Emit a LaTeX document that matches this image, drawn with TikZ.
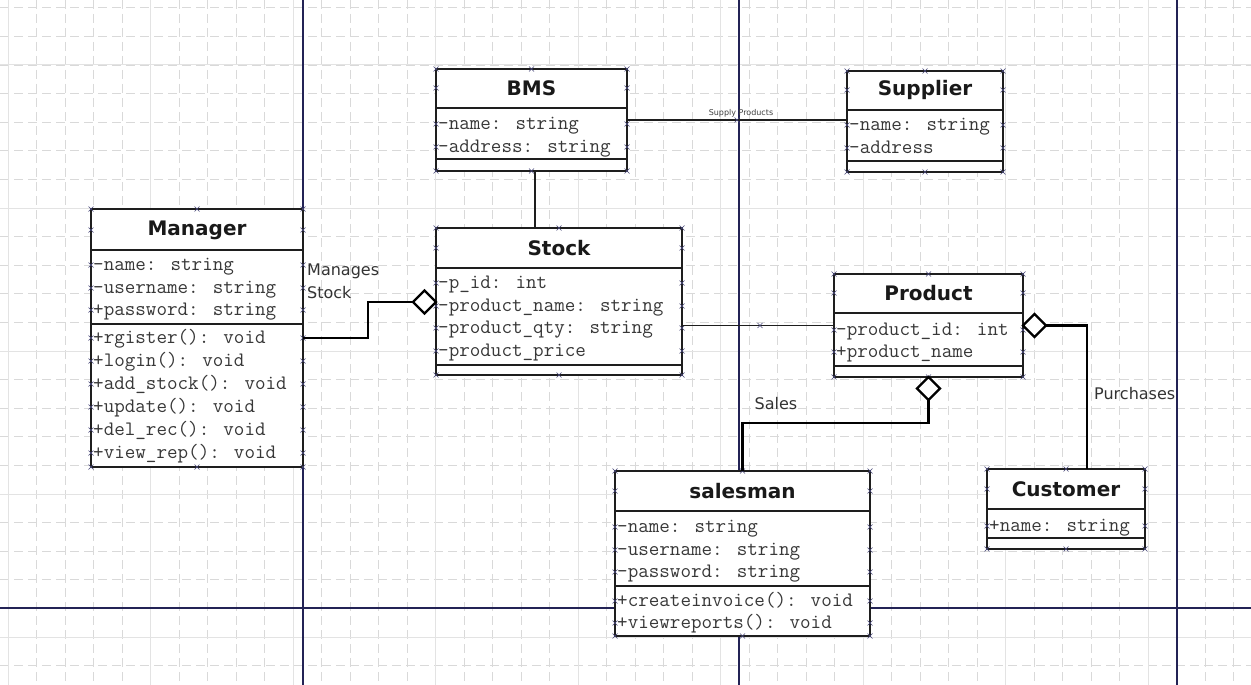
\documentclass[tikz,border=0pt]{standalone}
\usepackage{fontspec}
\setmainfont{DejaVu Sans}
\newfontfamily\umlmono{Latin Modern Mono}
\usetikzlibrary{shapes.geometric,calc}

\definecolor{pagebreak}{RGB}{35,35,85}
\definecolor{ink}{RGB}{30,30,30}
\definecolor{marker}{RGB}{70,70,120}

\tikzset{
  minorgrid/.style={draw=black!15, line width=0.8pt, dash pattern=on 9pt off 5pt},
  majorgrid/.style={draw=black!11, line width=1pt},
  pageline/.style={draw=pagebreak, line width=1.8pt},
  frame/.style={rectangle, draw=ink, fill=white, line width=1.4pt, inner sep=0pt, outer sep=0pt},
  rule/.style={draw=ink, line width=1.4pt},
  title/.style={font=\fontsize{20}{24}\selectfont\bfseries, text=black!90, inner sep=0pt},
  attr/.style={font=\umlmono\fontsize{20.5}{24}\selectfont, text=black!78, anchor=west,
               inner sep=0pt, text height=11pt, text depth=1pt},
  tag/.style={font=\fontsize{16}{23}\selectfont, text=black!80, inner sep=0pt},
  assoc/.style={draw=ink, line width=1.3pt},
  agg/.style={draw=black, line width=2.6pt},
  aggdiamond/.style={diamond, draw=black, fill=white, line width=2.2pt,
                     minimum width=23pt, minimum height=23pt, inner sep=0pt, outer sep=0pt},
  xmark/.pic={\draw[marker, line width=0.55pt] (-2.5,-2.5) -- (2.5,2.5) (-2.5,2.5) -- (2.5,-2.5);}
}

% class frame: name, left, top, right, bottom, header rule y, divider rule y, title y, title
\newcommand\umlclass[9]{%
  \node[frame, anchor=north west, minimum width={(#4-#2)*1pt}, minimum height={(#5-#3)*1pt}] (#1) at (#2,#3) {};
  \draw[rule] (#2,#6) -- (#4,#6) (#2,#7) -- (#4,#7);
  \node[title] (#1-title) at ({(#2+#4)/2},#8) {#9};
  \foreach \a in {north west,north,north east,south west,south,south east} \pic at (#1.\a) {xmark};
  \pic at (#2,#8) {xmark}; \pic at (#4,#8) {xmark};
}
% member rows: name, left, right, list of y/text
\newcommand\umlrows[4]{%
  \foreach \yy/\rowtext [count=\i] in {#4} {
    \node[attr] (#1-r\i) at (#2+2,\yy) {\rowtext};
    \pic at (#2,\yy) {xmark}; \pic at (#3,\yy) {xmark};
  }
}

\begin{document}
\begin{tikzpicture}[x=1pt,y=-1pt]
\useasboundingbox (0,0) rectangle (1251,685);
\fill[white] (0,0) rectangle (1251,685);

% drawing grid
\foreach \i in {0,...,43} \draw[minorgrid] ({8+28.5*\i},0) -- ({8+28.5*\i},685);
\foreach \j in {-2,...,21} \draw[minorgrid] (0,{65+28.6*\j}) -- (1251,{65+28.6*\j});
\foreach \k in {0,...,8} \draw[majorgrid] ({8+142.5*\k},0) -- ({8+142.5*\k},685);
\foreach \k in {0,...,4} \draw[majorgrid] (0,{65+143*\k}) -- (1251,{65+143*\k});

% page boundaries
\foreach \px in {303,739,1177} \draw[pageline] (\px,0) -- (\px,685);
\draw[pageline] (0,608) -- (1251,608);

% classes
\umlclass{mgr}{91}{209}{303}{467}{250}{324}{230}{Manager}
\umlrows{mgr}{91}{303}{265/{-name: string},288/{-username: string},310/{+password: string},
  338/{+rgister(): void},361/{+login(): void},384/{+add\_stock(): void},
  407/{+update(): void},430/{+del\_rec(): void},453/{+view\_rep(): void}}

\umlclass{bms}{436}{69}{627}{171}{108}{159}{88}{BMS}
\umlrows{bms}{436}{627}{124/{-name: string},147/{-address: string}}

\umlclass{sup}{847}{71}{1003}{172}{110}{161}{90}{Supplier}
\umlrows{sup}{847}{1003}{125/{-name: string},148/{-address}}

\umlclass{stock}{436}{228}{682}{375}{268}{365}{248}{Stock}
\umlrows{stock}{436}{682}{283/{-p\_id: int},306/{-product\_name: string},
  328/{-product\_qty: string},351/{-product\_price}}

\umlclass{prod}{834}{274}{1023}{377}{313}{366}{293}{Product}
\umlrows{prod}{834}{1023}{330/{-product\_id: int},352/{+product\_name}}

\umlclass{sales}{615}{471}{870}{636}{511}{586}{491}{salesman}
\umlrows{sales}{615}{870}{527/{-name: string},550/{-username: string},572/{-password: string},
  601/{+createinvoice(): void},623/{+viewreports(): void}}

\umlclass{cust}{987}{469}{1145}{549}{509}{538}{489}{Customer}
\umlrows{cust}{987}{1145}{526/{+name: string}}

% associations
\draw[assoc] (bms.east) -- (bms.east -| sup.west);
\pic at ($(bms.east)!0.5!(bms.east -| sup.west)$) {xmark};
\node[font=\fontsize{8}{9}\selectfont, text=black!75, inner sep=0pt] (supplylbl) at (741,113) {Supply Products};

\draw[assoc] ([xshift=3.5pt]bms.south) -- ([xshift=3.5pt]bms.south |- stock.north);

\draw[assoc] (prod.west -| stock.east) -- (prod.west);
\pic at (760,325.5) {xmark};

% aggregations
\node[aggdiamond, anchor=east] (agg1) at (stock.west |- 0,302) {};
\coordinate (knee1) at (368,338);
\draw[agg] (mgr-r4 -| mgr.east) -- (knee1) |- (agg1.west);
\node[tag, align=left, anchor=north west] (mgrlbl) at (307,264) {Manages\\Stock};

\node[aggdiamond, anchor=west] (agg2) at (prod.east) {};
\draw[agg] (agg2.east) -| ([xshift=21pt]cust.north);
\node[tag, anchor=west] (purlbl) at (1094,394) {Purchases};

\node[aggdiamond, anchor=north] (agg3) at (prod.south) {};
\coordinate (knee3) at (928.5,423);
\draw[agg] (agg3.south) -- (knee3) -| (sales.north);
\node[tag] (saleslbl) at (776,404) {Sales};
\end{tikzpicture}
\end{document}
